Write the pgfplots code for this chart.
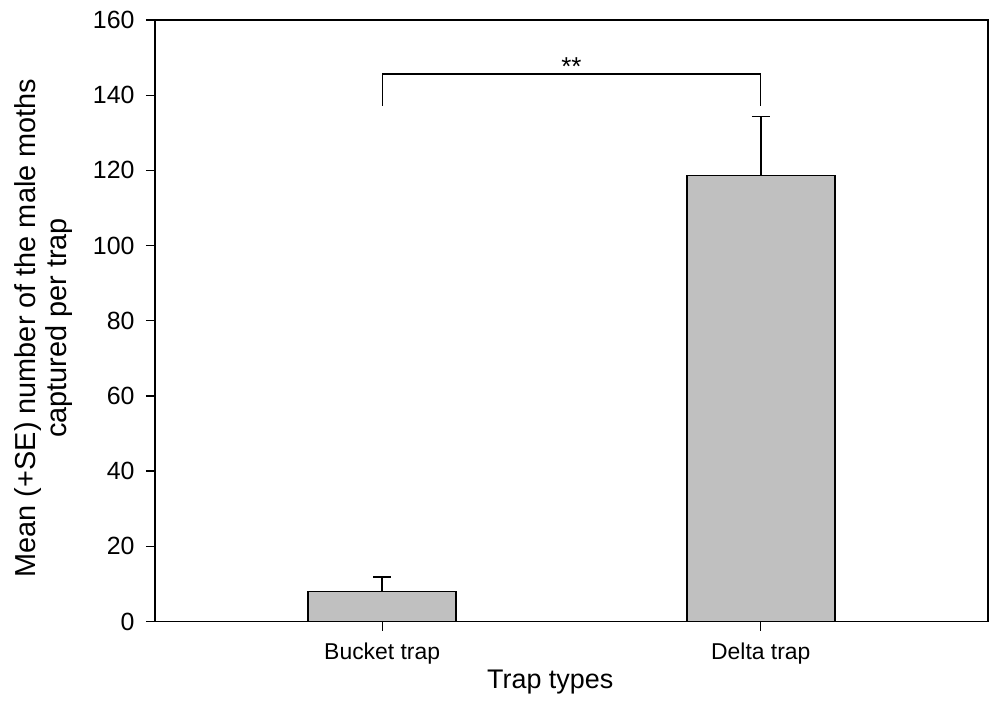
\documentclass[border=0pt]{standalone}
\usepackage{pgfplots}
\pgfplotsset{compat=1.18}
\usepackage{fontspec}
\setmainfont{Liberation Sans}
\begin{document}
\begin{tikzpicture}
\useasboundingbox (-155bp,-83.5bp) rectangle (837bp,621.5bp);
\begin{axis}[
  at={(0,0)}, anchor=south west,
  scale only axis,
  width=833bp, height=601.5bp,
  xmin=0.4, xmax=2.6,
  ymin=0, ymax=160,
  ytick={0,20,...,160},
  xtick={1,2},
  xticklabels={Bucket trap, Delta trap},
  xtick pos=bottom, ytick pos=left,
  tick align=outside,
  major tick length=9bp,
  tick style={line width=1.3bp, black},
  axis line style={line width=1.3bp},
  x tick label style={font=\fontsize{23}{26}\selectfont, yshift=-9bp},
  y tick label style={font=\fontsize{25}{28}\selectfont, xshift=-8bp},
  /pgf/number format/assume math mode=true,
  xlabel={Trap types},
  ylabel={Mean (+SE) number of the male moths\\captured per trap},
  ylabel style={at={(axis description cs:-0.1339,0.488)}, anchor=center, rotate=0,
    align=center, font=\fontsize{29}{31}\selectfont},
  xlabel style={at={(axis description cs:0.4745,0)}, anchor=north, yshift=-45bp,
    font=\fontsize{27}{30}\selectfont},
  ybar, bar width=148bp,
  clip=false,
]
\addplot[fill={rgb,255:red,192;green,192;blue,192}, draw=black, line width=1.6bp,
  error bars/.cd, y dir=plus, y explicit,
  error bar style={line width=1.6bp, black},
  error mark options={rotate=90, line width=1.6bp, mark size=9bp, black}]
  coordinates {(1,8.0) +- (0,3.9) (2,118.6) +- (0,15.7)};
\draw[line width=1.3bp] (axis cs:1,137.2) -- (axis cs:1,145.6) -- (axis cs:2,145.6) -- (axis cs:2,137.2);
\node[anchor=south, font=\fontsize{26}{28}\selectfont, inner sep=0bp, yshift=-2bp] at (axis cs:1.5,145.6) {**};
\end{axis}
\end{tikzpicture}
\end{document}
